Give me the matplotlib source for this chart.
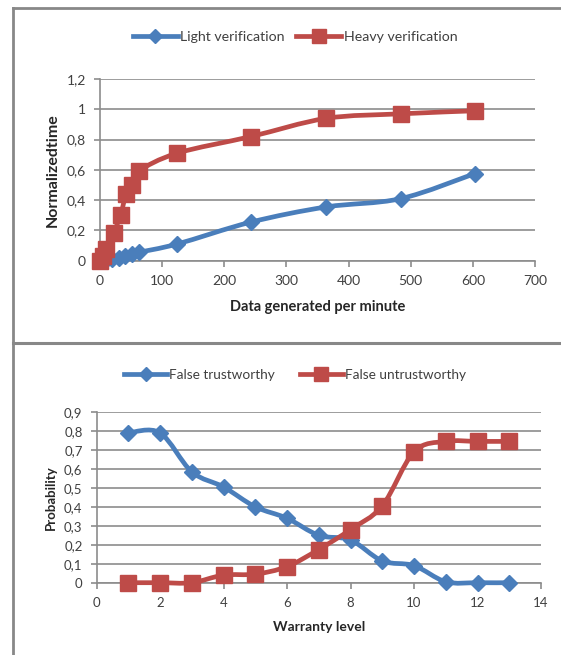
import numpy as np
import matplotlib.pyplot as plt
from matplotlib.path import Path
from matplotlib.patches import PathPatch
from matplotlib.lines import Line2D
from matplotlib.ticker import FuncFormatter, MultipleLocator

# top chart: verification time
light_x = [0, 10, 20, 31, 41, 52, 62, 124, 243, 364, 484, 603]
light_y = [0, 0.005, 0.01, 0.02, 0.03, 0.045, 0.055, 0.11, 0.255, 0.355, 0.41, 0.575]
heavy_x = [0, 5, 10, 22, 33, 42, 52, 62, 124, 243, 364, 484, 603]
heavy_y = [0, 0.03, 0.08, 0.185, 0.30, 0.44, 0.50, 0.59, 0.71, 0.82, 0.94, 0.97, 0.99]

# bottom chart: false classification probability
warranty = [1, 2, 3, 4, 5, 6, 7, 8, 9, 10, 11, 12, 13]
false_trust = [0.79, 0.79, 0.585, 0.505, 0.40, 0.34, 0.25, 0.225, 0.115, 0.09, 0.005, 0.0, 0.0]
false_untrust = [0, 0, 0, 0.04, 0.045, 0.085, 0.175, 0.28, 0.405, 0.69, 0.745, 0.745, 0.745]

BLUE = '#4a7ebb'
RED = '#be4b48'
GRID = '#8c8c8c'
TXT = '#404040'

plt.rcParams['font.family'] = ['Lato', 'DejaVu Sans']


def smooth_path(x, y):
    # excel-like smoothed line (catmull-rom as cubic bezier)
    pts = np.column_stack([x, y]).astype(float)
    n = len(pts)
    verts = [pts[0]]
    codes = [Path.MOVETO]
    for i in range(n - 1):
        p0 = pts[max(i - 1, 0)]
        p1 = pts[i]
        p2 = pts[i + 1]
        p3 = pts[min(i + 2, n - 1)]
        verts += [p1 + (p2 - p0) / 6, p2 - (p3 - p1) / 6, p2]
        codes += [Path.CURVE4] * 3
    return Path(verts, codes)


def draw_series(ax, x, y, color, marker, ms, label):
    ax.add_patch(PathPatch(smooth_path(x, y), facecolor='none', edgecolor=color, lw=3.4,
                           capstyle='round', joinstyle='round', clip_on=False, zorder=3))
    ax.plot(x, y, ls='none', marker=marker, ms=ms, color=color, clip_on=False, zorder=4)
    return Line2D([], [], color=color, lw=3.4, marker=marker, ms=ms * 0.85, label=label)


def comma(v, pos):
    return f'{v:.1f}'.rstrip('0').rstrip('.').replace('.', ',')


def style_axes(ax, size):
    for s in ['top', 'right']:
        ax.spines[s].set_visible(False)
    for s in ['left', 'bottom']:
        ax.spines[s].set_color(GRID)
        ax.spines[s].set_linewidth(1.2)
    ax.yaxis.grid(True, color=GRID, lw=1.2)
    ax.set_axisbelow(True)
    ax.tick_params(direction='out', length=4, width=1.2, color=GRID, labelcolor=TXT, labelsize=size)
    ax.tick_params(axis='y', pad=6)
    ax.tick_params(axis='x', pad=6)
    ax.yaxis.set_major_formatter(FuncFormatter(comma))


fig = plt.figure(figsize=(5.61, 6.55), dpi=100)

# panel frames
W, H = 561, 655
fig.add_artist(Line2D([13 / W, 13 / W], [0, 1 - 8 / H], color='#888888', lw=2))
fig.add_artist(Line2D([13 / W, 1], [1 - 8 / H, 1 - 8 / H], color='#888888', lw=2))
fig.add_artist(Line2D([13 / W, 1], [1 - 343 / H, 1 - 343 / H], color='#888888', lw=2.2))

# top chart
ax1 = fig.add_axes([100 / W, 1 - 260.7 / H, 435 / W, 181.7 / H])
h1 = draw_series(ax1, light_x, light_y, BLUE, 'D', 8.5, 'Light verification')
h2 = draw_series(ax1, heavy_x, heavy_y, RED, 's', 11.5, 'Heavy verification')
ax1.set_xlim(0, 700)
ax1.set_ylim(0, 1.2)
ax1.xaxis.set_major_locator(MultipleLocator(100))
ax1.yaxis.set_major_locator(MultipleLocator(0.2))
style_axes(ax1, 10)
ax1.set_xlabel('Data generated per minute', fontsize=10.5, fontweight='bold', color='#262626', labelpad=10)
ax1.set_ylabel('Normalizedtime', fontsize=11.5, fontweight='bold', color='#262626', labelpad=5)
fig.legend(handles=[h1, h2], loc='center', bbox_to_anchor=(295 / W, 1 - 37 / H), ncol=2,
           frameon=False, numpoints=1, handlelength=3.2, handletextpad=0.15, columnspacing=0.8,
           prop={'size': 10.2}, labelcolor=TXT)

# bottom chart
ax2 = fig.add_axes([96.5 / W, 1 - 582.7 / H, 444.5 / W, 170.7 / H])
h3 = draw_series(ax2, warranty, false_trust, BLUE, 'D', 8.5, 'False trustworthy')
h4 = draw_series(ax2, warranty, false_untrust, RED, 's', 11.5, 'False untrustworthy')
ax2.set_xlim(0, 14)
ax2.set_ylim(0, 0.9)
ax2.xaxis.set_major_locator(MultipleLocator(2))
ax2.yaxis.set_major_locator(MultipleLocator(0.1))
style_axes(ax2, 9.5)
ax2.set_xlabel('Warranty level', fontsize=10, fontweight='bold', color='#262626', labelpad=9)
ax2.set_ylabel('Probability', fontsize=9.5, fontweight='bold', color='#262626', labelpad=5)
fig.legend(handles=[h3, h4], loc='center', bbox_to_anchor=(295 / W, 1 - 375 / H), ncol=2,
           frameon=False, numpoints=1, handlelength=3.2, handletextpad=0.15, columnspacing=1.8,
           prop={'size': 9.8}, labelcolor=TXT)

fig.savefig('out.png', dpi=100, facecolor='white')
